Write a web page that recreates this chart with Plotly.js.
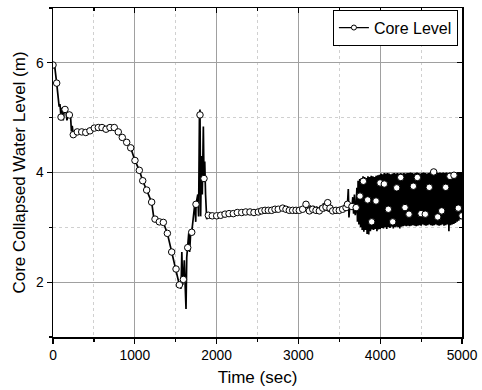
<!DOCTYPE html>
<html>
<head>
<meta charset="utf-8">
<script src="https://cdn.plot.ly/plotly-3.0.1.min.js"></script>
<style>html,body{margin:0;padding:0;background:#fff;}#chart{width:482px;height:390px;}</style>
</head>
<body>
<div id="chart"></div>
<script>
// Dense core level signal (time in s, level in m)
const lineTime = [
  0, 20, 45, 60, 75, 85, 98, 110, 125, 135, 147, 160, 170, 185, 200, 215, 225, 235, 248, 270,
  297, 351, 400, 452, 505, 554, 599, 648, 697, 749, 798, 847, 901, 950, 1002, 1055, 1097, 1145, 1206, 1230,
  1247, 1300, 1349, 1398, 1451, 1504, 1545, 1565, 1575, 1585, 1594, 1605, 1615, 1626, 1635, 1647, 1660, 1670, 1685, 1696,
  1720, 1735, 1745, 1748, 1770, 1780, 1790, 1797, 1805, 1815, 1825, 1838, 1846, 1855, 1865, 1879, 1899,
  1947, 2001, 2050, 2103, 2152, 2204, 2253, 2307, 2356, 2408, 2457, 2510, 2551, 2592, 2632, 2673, 2714, 2754, 2808,
  2848, 2889, 2930, 2971, 3011, 3052, 3093, 3134, 3145, 3155, 3165, 3175, 3185, 3195, 3205, 3215, 3225, 3235, 3245,
  3256, 3266, 3276, 3286, 3297, 3307, 3317, 3327, 3337, 3347, 3358, 3368, 3378, 3386, 3419, 3460, 3500, 3541, 3582,
  3600, 3610, 3618, 3630, 3655, 3665, 3675, 3685, 3695, 3706, 3715, 3722,
  3730, 3740, 3750, 3760, 3770, 3780, 3790, 3800, 3810, 3820, 3830, 3840, 3850, 3860, 3870, 3880, 3890, 3900,
  3910, 3920, 3930, 3940, 3950, 3960, 3970, 3980, 3990, 4000, 4010, 4020, 4030, 4040, 4050, 4060, 4070, 4080,
  4090, 4100, 4110, 4120, 4130, 4140, 4150, 4160, 4170, 4180, 4190, 4200, 4210, 4220, 4230, 4240, 4250, 4260,
  4270, 4280, 4290, 4300, 4310, 4320, 4330, 4340, 4350, 4360, 4370, 4380, 4390, 4400, 4410, 4420, 4430, 4440,
  4450, 4460, 4470, 4480, 4490, 4500, 4510, 4520, 4530, 4540, 4550, 4560, 4570, 4580, 4590, 4600, 4610, 4620,
  4630, 4640, 4650, 4660, 4670, 4680, 4690, 4700, 4710, 4720, 4730, 4740, 4750, 4760, 4770, 4780, 4790, 4800,
  4810, 4820, 4830, 4840, 4850, 4860, 4870, 4880, 4890, 4900, 4910, 4920, 4930, 4940, 4950, 4960, 4970, 4980,
  4990, 5000
];
const lineLevel = [
  5.98, 5.95, 5.63, 5.40, 5.20, 5.25, 5.01, 5.18, 4.95, 5.10, 5.15, 5.12, 4.95, 5.05, 5.05, 5.02, 4.75, 4.85, 4.69, 4.72,
  4.74, 4.74, 4.73, 4.76, 4.81, 4.82, 4.82, 4.79, 4.82, 4.82, 4.74, 4.64, 4.55, 4.45, 4.22, 4.04, 3.85, 3.68, 3.46, 3.20,
  3.15, 3.10, 3.09, 2.89, 2.55, 2.24, 1.95, 1.88, 2.55, 1.95, 2.05, 2.40, 1.85, 1.51, 2.45, 2.63, 2.90, 2.55, 2.95, 2.91,
  3.20, 3.45, 3.10, 3.42, 3.60, 3.20, 5.00, 5.15, 3.20, 4.30, 3.60, 4.84, 3.89, 4.20, 3.60, 3.15, 3.22,
  3.21, 3.21, 3.22, 3.24, 3.25, 3.25, 3.27, 3.27, 3.28, 3.28, 3.27, 3.28, 3.30, 3.31, 3.31, 3.31, 3.33, 3.33, 3.35,
  3.33, 3.31, 3.31, 3.31, 3.31, 3.33, 3.42, 3.30, 3.40, 3.27, 3.38, 3.30, 3.39, 3.28, 3.37, 3.31, 3.38, 3.27, 3.36,
  3.30, 3.39, 3.28, 3.40, 3.35, 3.44, 3.29, 3.46, 3.37, 3.30, 3.45, 3.28, 3.40, 3.35, 3.30, 3.31, 3.31, 3.33, 3.36,
  3.42, 3.70, 3.18, 3.42, 3.37, 3.55, 3.25, 3.60, 3.22, 3.36, 3.72, 3.10,
  3.85, 3.05, 3.88, 3.00, 3.90, 2.95, 3.93, 2.92, 3.92, 2.95, 3.90, 2.88, 3.93, 2.87, 3.92, 2.93, 3.94, 2.96,
  3.93, 2.95, 3.92, 2.97, 3.94, 2.93, 3.95, 2.96, 3.96, 2.97, 3.98, 2.99, 3.97, 2.98, 3.99, 3.00, 3.98, 2.97,
  3.99, 3.00, 3.98, 2.99, 3.97, 3.01, 3.98, 2.98, 3.99, 3.00, 3.98, 3.01, 3.99, 3.00, 3.98, 2.98, 3.99, 3.01,
  3.98, 3.02, 3.99, 3.03, 3.98, 3.02, 3.99, 3.03, 3.99, 3.02, 4.00, 3.03, 3.99, 3.04, 3.98, 3.03, 3.99, 3.02,
  4.00, 3.03, 3.99, 3.04, 3.98, 3.03, 3.99, 3.05, 4.00, 3.04, 3.99, 3.03, 3.98, 3.04, 3.99, 3.05, 4.00, 3.04,
  3.99, 3.03, 4.01, 3.04, 3.99, 3.05, 4.00, 3.04, 3.99, 3.03, 4.00, 3.04, 3.99, 3.05, 4.00, 3.03, 3.99, 3.04,
  4.00, 3.05, 3.99, 2.93, 4.00, 3.04, 3.99, 3.05, 4.00, 3.06, 3.99, 3.08, 4.00, 3.10, 3.99, 3.12, 4.00, 3.15,
  3.99, 3.16
];
// Sampled points shown as circle markers
const markerTime = [
  0, 45, 98, 147, 200, 248, 297, 351, 400, 452, 505, 554, 599, 648, 697, 749, 798, 847, 901, 950,
  1002, 1055, 1097, 1145, 1206, 1247, 1300, 1349, 1398, 1451, 1504, 1545, 1594, 1647, 1696, 1748, 1797, 1846, 1899, 1947,
  2001, 2050, 2103, 2152, 2204, 2253, 2307, 2356, 2408, 2457, 2510, 2551, 2592, 2632, 2673, 2714, 2754, 2808, 2848, 2889,
  2930, 2971, 3011, 3052, 3093, 3134, 3175, 3215, 3256, 3297, 3337, 3358, 3386, 3419, 3460, 3500, 3541, 3582, 3600, 3655,
  3706, 3753, 3794, 3847, 3896, 3949, 3998, 4050, 4099, 4153, 4202, 4251, 4303, 4352, 4405, 4454, 4499, 4551, 4600, 4654,
  4703, 4752, 4801, 4853, 4902, 4955, 5000
];
const markerLevel = [
  5.96, 5.63, 5.01, 5.15, 5.05, 4.69, 4.74, 4.74, 4.73, 4.76, 4.81, 4.82, 4.82, 4.79, 4.82, 4.82, 4.74, 4.64, 4.55, 4.45,
  4.22, 4.04, 3.85, 3.68, 3.46, 3.15, 3.10, 3.09, 2.89, 2.55, 2.24, 1.95, 2.05, 2.63, 2.91, 3.42, 5.05, 3.89, 3.22, 3.21,
  3.21, 3.22, 3.24, 3.25, 3.25, 3.27, 3.27, 3.28, 3.28, 3.27, 3.28, 3.30, 3.31, 3.31, 3.31, 3.33, 3.33, 3.35, 3.33, 3.31,
  3.31, 3.31, 3.31, 3.33, 3.42, 3.30, 3.33, 3.31, 3.30, 3.35, 3.37, 3.45, 3.35, 3.30, 3.31, 3.31, 3.33, 3.36, 3.42, 3.38,
  3.36, 3.57, 3.84, 3.50, 3.10, 3.48, 3.81, 3.79, 3.33, 3.10, 3.72, 3.91, 3.36, 3.24, 3.75, 3.91, 3.25, 3.24, 3.73, 4.01,
  3.19, 3.30, 3.73, 3.93, 3.95, 3.35, 3.21
];
const seriesName = 'Core Level';
const xTitle = 'Time (sec)';
const yTitle = 'Core Collapsed Water Level (m)';

const FONT = 'Liberation Sans, Arial, Helvetica, sans-serif';
const lineStyle = {color: '#000', width: 1.7};
const markerStyle = {symbol: 'circle', size: 6.5, color: '#fff', line: {color: '#000', width: 1}};

const traces = [
  {x: lineTime, y: lineLevel, mode: 'lines', line: lineStyle, showlegend: false, hoverinfo: 'skip'},
  {x: markerTime, y: markerLevel, mode: 'markers', marker: markerStyle, showlegend: false},
  {x: [null], y: [null], mode: 'lines+markers', name: seriesName, line: {color: '#000', width: 1.2},
   marker: {symbol: 'circle', size: 5, color: '#fff', line: {color: '#000', width: 1}}},
  // mirror axes (top / right) with inward ticks
  {x: [null], y: [null], xaxis: 'x2', yaxis: 'y2', showlegend: false, hoverinfo: 'skip'}
];

const axBase = {
  showline: true, linecolor: '#000', linewidth: 1.5, zeroline: false,
  tickfont: {family: FONT, size: 13.8, color: '#000'},
  tickcolor: '#000', tickwidth: 1.2
};

const layout = {
  width: 482, height: 390,
  margin: {l: 53, r: 20, t: 8, b: 53},
  paper_bgcolor: '#fff', plot_bgcolor: '#fff',
  font: {family: FONT, color: '#000'},
  xaxis: Object.assign({}, axBase, {
    range: [0, 5000], dtick: 1000, tick0: 0, ticks: 'outside', ticklen: 5,
    showgrid: true, gridcolor: '#a0a0a0', gridwidth: 1,
    minor: {dtick: 500, ticks: 'outside', ticklen: 3, tickcolor: '#000', showgrid: true, gridcolor: '#d0d0d0', griddash: 'dot', gridwidth: 1},
    title: {text: xTitle, font: {family: FONT, size: 17, color: '#000'}, standoff: 9}
  }),
  yaxis: Object.assign({}, axBase, {
    range: [1, 7], dtick: 2, tick0: 0, ticks: 'outside', ticklen: 5,
    showgrid: true, gridcolor: '#a0a0a0', gridwidth: 1,
    minor: {dtick: 1, ticks: 'outside', ticklen: 3, tickcolor: '#000', showgrid: true, gridcolor: '#d0d0d0', griddash: 'dot', gridwidth: 1},
    title: {text: yTitle, font: {family: FONT, size: 17, color: '#000'}, standoff: 6}
  }),
  xaxis2: Object.assign({}, axBase, {
    overlaying: 'x', side: 'top', range: [0, 5000], dtick: 1000, tick0: 0,
    ticks: 'inside', ticklen: 5, showticklabels: false, showgrid: false,
    minor: {dtick: 500, ticks: 'inside', ticklen: 3, tickcolor: '#000', showgrid: false}
  }),
  yaxis2: Object.assign({}, axBase, {
    overlaying: 'y', side: 'right', range: [1, 7], dtick: 2, tick0: 0,
    ticks: 'inside', ticklen: 5, showticklabels: false, showgrid: false,
    minor: {dtick: 1, ticks: 'inside', ticklen: 3, tickcolor: '#000', showgrid: false}
  }),
  legend: {
    x: 0.99, xanchor: 'right', y: 0.995, yanchor: 'top',
    bgcolor: '#fff', bordercolor: '#000', borderwidth: 1,
    font: {family: FONT, size: 16, color: '#000'},
    itemwidth: 30, tracegroupgap: 0
  },
  showlegend: true
};

Plotly.newPlot('chart', traces, layout, {displayModeBar: false, staticPlot: true});
</script>
</body>
</html>
